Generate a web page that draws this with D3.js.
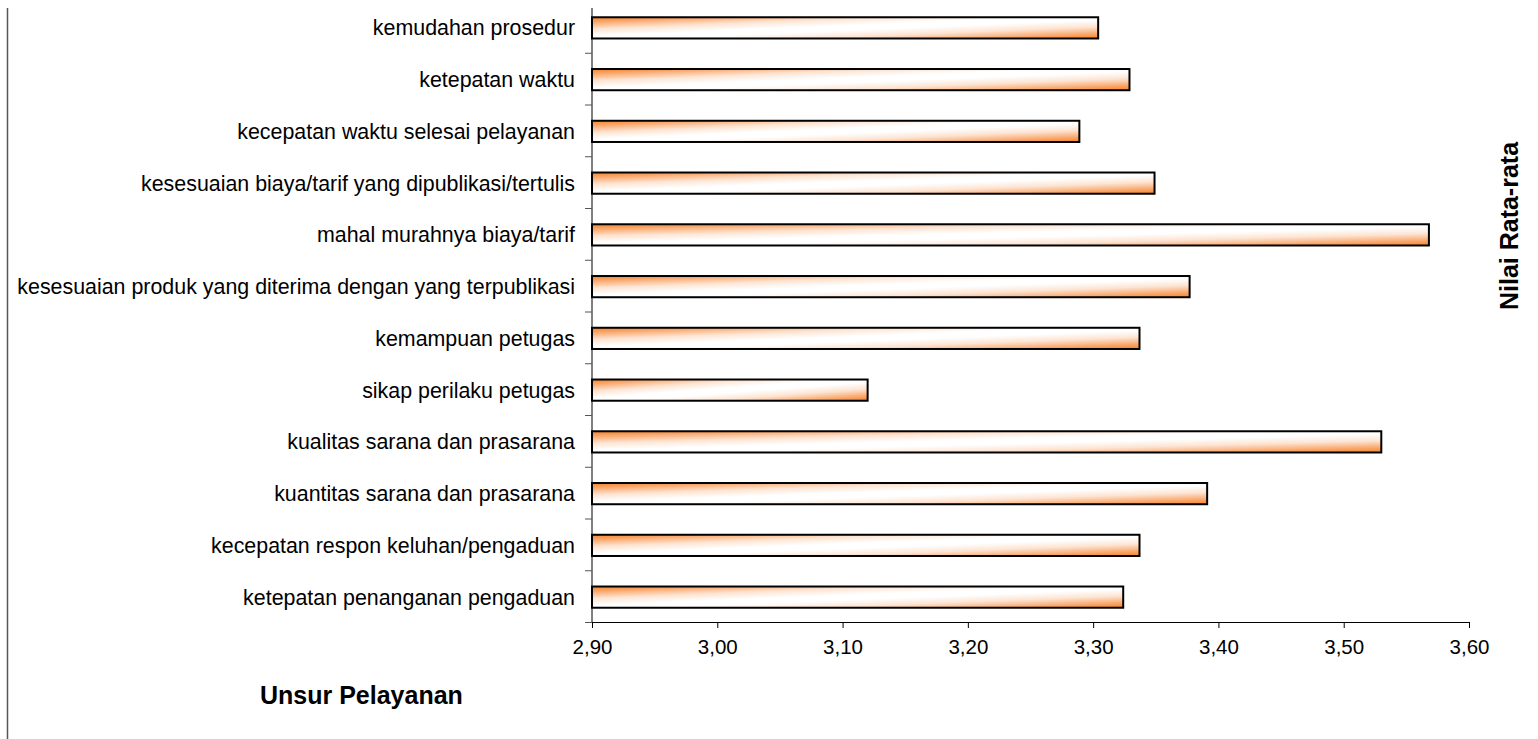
<!DOCTYPE html>
<html>
<head>
<meta charset="utf-8">
<script src="https://cdn.jsdelivr.net/npm/d3@7"></script>
<style>
  body { margin: 0; background: #fff; }
  svg { display: block; font-family: "Liberation Sans", Arial, sans-serif; }
</style>
</head>
<body>
<svg id="chart" width="1538" height="739"></svg>
<script>
var categories = [
  'kemudahan prosedur',
  'ketepatan waktu',
  'kecepatan waktu selesai pelayanan',
  'kesesuaian biaya/tarif yang dipublikasi/tertulis',
  'mahal murahnya biaya/tarif',
  'kesesuaian produk yang diterima dengan yang terpublikasi',
  'kemampuan petugas',
  'sikap perilaku petugas',
  'kualitas sarana dan prasarana',
  'kuantitas sarana dan prasarana',
  'kecepatan respon keluhan/pengaduan',
  'ketepatan penanganan pengaduan'
];
var values = [3.304, 3.329, 3.289, 3.349, 3.568, 3.377, 3.337, 3.120, 3.530, 3.391, 3.337, 3.324];
var xTicks = [2.9, 3.0, 3.1, 3.2, 3.3, 3.4, 3.5, 3.6];

var svg = d3.select('#chart');

var x = d3.scaleLinear().domain([2.9, 3.6]).range([592, 1469]);
var y = d3.scaleBand().domain(categories).range([1, 622]).paddingInner(0.59).paddingOuter(0.295);

// diagonal fill: orange in the top-left and bottom-right corners, white through the middle
var defs = svg.append('defs');
var grad = defs.append('linearGradient')
  .attr('id', 'barFill')
  .attr('x1', 0).attr('y1', 0).attr('x2', 1).attr('y2', 1);
[
  [0, '#f7862a'], [0.1, '#f9a263'], [0.28, '#fde4d2'], [0.44, '#ffffff'],
  [0.56, '#ffffff'], [0.72, '#fde4d2'], [0.9, '#f9a263'], [1, '#f7862a']
].forEach(function(s) {
  grad.append('stop').attr('offset', s[0]).attr('stop-color', s[1]);
});

// left frame line
svg.append('line')
  .attr('x1', 7.5).attr('x2', 7.5)
  .attr('y1', 8).attr('y2', 739)
  .attr('stroke', '#555').attr('stroke-width', 1.5);

// bars
svg.append('g').selectAll('rect')
  .data(values)
  .enter()
    .append('rect')
      .attr('x', x(2.9))
      .attr('y', function(d, i) { return y(categories[i]) + 1; })
      .attr('width', function(d) { return x(d) - x(2.9); })
      .attr('height', y.bandwidth())
      .attr('fill', 'url(#barFill)')
      .attr('stroke', '#000')
      .attr('stroke-width', 2);

// y axis, ticks sit between the categories
var yAxis = svg.append('g');
yAxis.append('line')
  .attr('x1', x(2.9)).attr('x2', x(2.9))
  .attr('y1', 8).attr('y2', 622)
  .attr('stroke', '#000');
yAxis.selectAll('line.tick')
  .data(categories)
  .enter()
    .append('line')
      .attr('class', 'tick')
      .attr('x1', x(2.9) - 7).attr('x2', x(2.9))
      .attr('y1', function(d) { return y(d) + y.bandwidth() + y.step() * 0.295 + 0.5; })
      .attr('y2', function(d) { return y(d) + y.bandwidth() + y.step() * 0.295 + 0.5; })
      .attr('stroke', '#555');
yAxis.selectAll('text')
  .data(categories)
  .enter()
    .append('text')
      .attr('x', 575)
      .attr('y', function(d) { return y(d) + y.bandwidth() / 2 + 1; })
      .attr('dy', '0.35em')
      .attr('text-anchor', 'end')
      .attr('font-size', 21.4)
      .attr('fill', '#000')
      .text(function(d) { return d; });

// x axis
var xAxis = svg.append('g')
  .attr('transform', 'translate(0,622)')
  .call(d3.axisBottom(x)
    .tickValues(xTicks)
    .tickSize(6)
    .tickFormat(function(d) { return d3.format('.2f')(d).replace('.', ','); }));
xAxis.select('.domain').attr('stroke', '#000');
xAxis.selectAll('.tick line').attr('stroke', '#000');
xAxis.selectAll('.tick text')
  .attr('font-family', '"Liberation Sans", Arial, sans-serif')
  .attr('font-size', 20.5)
  .attr('fill', '#000')
  .attr('dy', '1.1em');

// titles
svg.append('text')
  .attr('x', 260).attr('y', 704)
  .attr('font-size', 25)
  .attr('font-weight', 'bold')
  .text('Unsur Pelayanan');

svg.append('text')
  .attr('transform', 'translate(1518,226) rotate(-90)')
  .attr('text-anchor', 'middle')
  .attr('font-size', 25)
  .attr('font-weight', 'bold')
  .text('Nilai Rata-rata');
</script>
</body>
</html>
